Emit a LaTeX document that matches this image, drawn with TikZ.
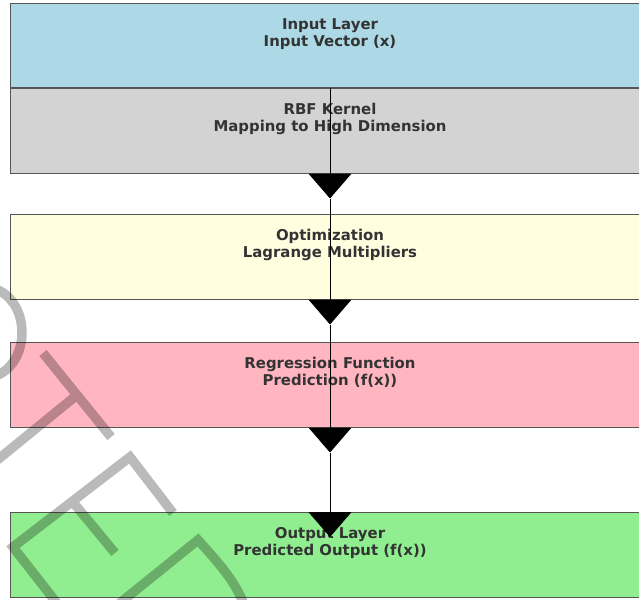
\documentclass[tikz,border=0pt]{standalone}
\usepackage{fontspec}
\setmainfont{DejaVu Sans}
\usetikzlibrary{arrows.meta,positioning,calc}
\definecolor{inputblue}{HTML}{ADD8E6}
\definecolor{kernelgray}{HTML}{D3D3D3}
\definecolor{optyellow}{HTML}{FFFFE0}
\definecolor{regpink}{HTML}{FFB6C1}
\definecolor{outgreen}{HTML}{90EE90}
\definecolor{edgegray}{HTML}{555555}
\definecolor{labelgray}{HTML}{333333}

\begin{document}
\begin{tikzpicture}[x=1pt, y=-1pt,
layer/.style={rectangle, draw=edgegray, line width=1pt, minimum width=640pt, minimum height=84.5pt, anchor=north, inner sep=0pt},
caption/.style={align=center, inner sep=0pt, anchor=north, text=labelgray, font=\fontsize{14.9}{17}\selectfont\bfseries},
flow/.style={-{Triangle[width=43pt, length=25pt]}, line width=1pt, black},
stamp/.style={line width=9.5pt, black, opacity=0.27, line join=miter}
]
\clip (0,0) rectangle (639,599);
% layers
\node[layer, fill=inputblue] (input) at (330,3) {};
\node[layer, fill=kernelgray] (kernel) at (330,88) {};
\node[layer, fill=optyellow] (optim) at (330,214) {};
\node[layer, fill=regpink] (regress) at (330,342) {};
\node[layer, fill=outgreen] (output) at (330,512) {};
% captions
\node[caption, below=15pt of input.north] (inputtext) {Input Layer\\Input Vector (x)};
\node[caption, below=15pt of kernel.north] (kerneltext) {RBF Kernel\\Mapping to High Dimension};
\node[caption, below=15pt of optim.north] (optimtext) {Optimization\\Lagrange Multipliers};
\node[caption, below=15pt of regress.north] (regresstext) {Regression Function\\Prediction (f(x))};
\node[caption, below=15pt of output.north] (outputtext) {Output Layer\\Predicted Output (f(x))};
% arrows
\coordinate (tip1) at ($(kernel.south)+(0,25)$);
\coordinate (tip2) at ($(optim.south)+(0,25)$);
\coordinate (tip3) at ($(regress.south)+(0,25)$);
\coordinate (tip4) at ($(output.north)+(0,25)$);
\draw[flow] (input.south) -- (tip1);
\draw[flow] (tip1) -- (tip2);
\draw[flow] (tip2) -- (tip3);
\draw[flow] (tip3) -- (tip4);
% watermark
\draw[stamp] (-2,290) .. controls (30,305) and (30,360) .. (-2,375)
  (43,353) -- (111,437) (77,395) -- (-15,470)
  (173,513) -- (130,457) -- (13,547) -- (70,620) (72,501) -- (115,553)
  (110,611) -- (198,540) .. controls (225,570) and (238,585) .. (248,615);
\end{tikzpicture}
\end{document}
